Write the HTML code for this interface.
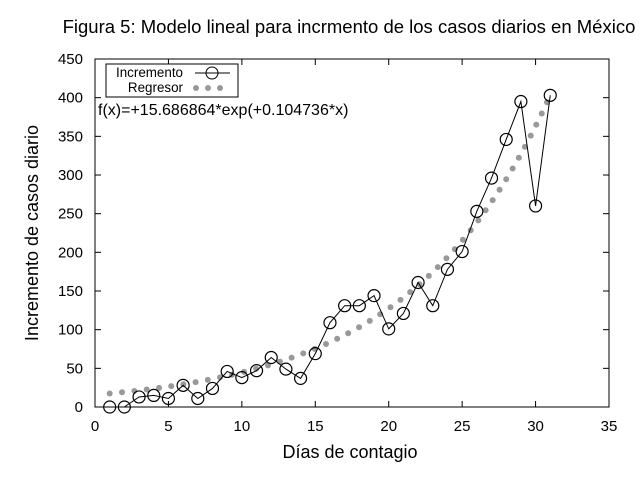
<!DOCTYPE html>
<html><head><meta charset="utf-8"><style>
body{margin:0;background:#fff}
svg{display:block;font-family:"Liberation Sans",Arial,sans-serif}
</style></head><body>
<svg id="c" width="640" height="480" xmlns="http://www.w3.org/2000/svg">
<rect x="0" y="0" width="640" height="480" fill="#fff"/>
<text x="349" y="33" font-size="18.5" text-anchor="middle">Figura 5: Modelo lineal para incrmento de los casos diarios en México</text>
<rect x="95" y="59" width="514" height="348" fill="none" stroke="#000" stroke-width="1"/>
<g id="ticks"></g>
<g id="fit"></g>
<g id="data"></g>
<text x="350" y="458" font-size="18" text-anchor="middle">Días de contagio</text>
<text transform="translate(38,233) rotate(-90)" font-size="18" text-anchor="middle">Incremento de casos diario</text>
<g>
<rect x="106" y="64" width="132" height="33" fill="#fff" stroke="#000"/>
<text x="183" y="77" font-size="13.4" text-anchor="end">Incremento</text>
<line x1="195" y1="73" x2="230" y2="73" stroke="#000"/>
<circle cx="212" cy="73" r="6" fill="none" stroke="#000"/>
<text x="183" y="92" font-size="13.4" text-anchor="end">Regresor</text>
<circle cx="196" cy="88" r="3" fill="#999"/><circle cx="208" cy="88" r="3" fill="#999"/><circle cx="220" cy="88" r="3" fill="#999"/>
</g>
<text x="98" y="115" font-size="16">f(x)=+15.686864*exp(+0.104736*x)</text>
</svg>
<script>
const days=[1,2,3,4,5,6,7,8,9,10,11,12,13,14,15,16,17,18,19,20,21,22,23,24,25,26,27,28,29,30,31];
const increments=[0,0,13,15,11,28,11,24,46,38,47,64,49,37,69,109,131,131,144,101,121,161,131,178,201,253,296,346,395,260,403];
const fitA=15.686864;
const fitB=0.104736;
const xTicks=[0,5,10,15,20,25,30,35];
const yTicks=[0,50,100,150,200,250,300,350,400,450];
const NS="http://www.w3.org/2000/svg";
const X0=95,X1=609,Y0=407,Y1=59;
function sx(v){return X0+(v-0)/(35-0)*(X1-X0);}
function sy(v){return Y0-(v-0)/(450-0)*(Y0-Y1);}
function mk(t,a,p){const e=document.createElementNS(NS,t);for(const k in a)e.setAttribute(k,a[k]);p.appendChild(e);return e;}
const tg=document.getElementById('ticks');
xTicks.forEach(v=>{
 mk('line',{x1:sx(v),y1:Y0,x2:sx(v),y2:Y0-6,stroke:'#000'},tg);
 mk('line',{x1:sx(v),y1:Y1,x2:sx(v),y2:Y1+6,stroke:'#000'},tg);
 const t=mk('text',{x:sx(v),y:Y0+24,'font-size':15,'text-anchor':'middle'},tg);
 t.textContent=v;
 
 
});
yTicks.forEach(v=>{
 mk('line',{x1:X0,y1:sy(v),x2:X0+6,y2:sy(v),stroke:'#000'},tg);
 mk('line',{x1:X1,y1:sy(v),x2:X1-6,y2:sy(v),stroke:'#000'},tg);
 const t=mk('text',{x:X0-12,y:sy(v)+5,'font-size':15,'text-anchor':'end'},tg);
 t.textContent=v;
 
 
});
const fg=document.getElementById('fit');
let px=null,py=null;
for(let x=1;x<=31.0001;x+=0.01){
 const X=sx(x),Y=sy(fitA*Math.exp(fitB*x));
 if(px===null||Math.hypot(X-px,Y-py)>=12.3){
  const c=mk('circle',{cx:X,cy:Y,r:3,fill:'#999'},fg);
  
  
  px=X;py=Y;
 }
}
const dg=document.getElementById('data');
const pl=mk('polyline',{points:days.map((d,i)=>sx(d)+','+sy(increments[i])).join(' '),fill:'none',stroke:'#000','stroke-width':1},dg);


days.forEach((d,i)=>{
 const c=mk('circle',{cx:sx(d),cy:sy(increments[i]),r:6,fill:'none',stroke:'#000','stroke-width':1.2},dg);
 
 
});
</script>
</body></html>
